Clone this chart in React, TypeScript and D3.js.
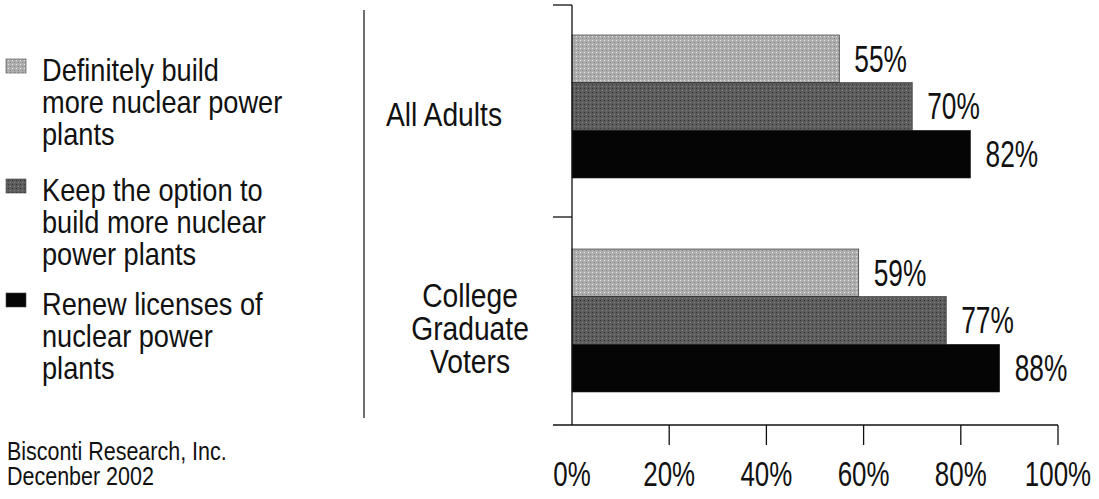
import React from "react";
import * as d3 from "d3";

const categories = ["All Adults", "College Graduate Voters"];
const categoryLines = [["All Adults"], ["College", "Graduate", "Voters"]];
const seriesNames = [
  "Definitely build more nuclear power plants",
  "Keep the option to build more nuclear power plants",
  "Renew licenses of nuclear power plants",
];
const legendLines = [
  ["Definitely build", "more nuclear power", "plants"],
  ["Keep the option to", "build more nuclear", "power plants"],
  ["Renew licenses of", "nuclear power", "plants"],
];
const allAdults = [55, 70, 82];
const collegeGrads = [59, 77, 88];
const values = [allAdults, collegeGrads];
const xTicks = [0, 20, 40, 60, 80, 100];
const sourceLines = ["Bisconti Research, Inc.", "Decenber 2002"];

const colors = ["#adadad", "#5c5c5c", "#050505"];
const FONT = "'Liberation Sans', Arial, sans-serif";

function T(props: {
  x: number;
  y: number;
  size: number;
  sx: number;
  anchor?: "start" | "middle" | "end";
  dy?: string;
  children: React.ReactNode;
}) {
  const { x, y, size, sx, anchor = "start", dy, children } = props;
  return (
    <g transform={`translate(${x},${y}) scale(${sx},1)`}>
      <text x={0} y={0} dy={dy} textAnchor={anchor} fontFamily={FONT} fontSize={size} fill="#111">
        {children}
      </text>
    </g>
  );
}

export default function App() {
  const W = 1099;
  const H = 499;
  const x = d3.scaleLinear().domain([0, 100]).range([572, 1058]);
  const y = d3.scaleBand<string>().domain(categories).range([3, 431]);
  const inner = d3.scaleBand<string>().domain(seriesNames).range([32, 175]);
  const axisTop = 5;
  const axisBottom = 425;
  const catLabelX = [444, 470];

  return (
    <svg width={W} height={H} style={{ position: "absolute", left: 0, top: 0, background: "#fff" }}>
      <defs>
        {colors.map((c, i) => (
          <pattern key={i} id={`pat${i}`} width={4} height={4} patternUnits="userSpaceOnUse">
            <rect width={4} height={4} fill={c} />
            {i < 2 && (
              <>
                <rect x={0} y={0} width={1} height={1} fill={i === 0 ? "#e6e6e6" : "#333"} />
                <rect x={2} y={2} width={1} height={1} fill={i === 0 ? "#808080" : "#8a8a8a"} />
              </>
            )}
          </pattern>
        ))}
      </defs>

      {/* Legend */}
      {legendLines.map((lines, i) => {
        const base = [81, 201, 315][i];
        return (
          <g key={i}>
            <rect x={6} y={base - 22} width={20} height={14} fill={`url(#pat${i})`} stroke="#444" strokeWidth={0.6} />
            {lines.map((ln, j) => (
              <T key={j} x={42} y={base + j * 32} size={32} sx={0.85}>
                {ln}
              </T>
            ))}
          </g>
        );
      })}

      {/* Source */}
      {sourceLines.map((ln, j) => (
        <T key={j} x={7} y={460 + j * 25} size={25} sx={0.86}>
          {ln}
        </T>
      ))}

      {/* Divider */}
      <line x1={364} x2={364} y1={10} y2={418} stroke="#222" strokeWidth={1.3} />

      {/* Category labels */}
      {categories.map((c, i) => {
        const lines = categoryLines[i];
        const cy = (y(c) as number) + y.bandwidth() / 2 + 4;
        const lh = 33;
        const start = cy - ((lines.length - 1) * lh) / 2;
        return (
          <g key={c}>
            {lines.map((ln, j) => (
              <T key={j} x={catLabelX[i]} y={start + j * lh} dy="0.35em" size={34} sx={0.83} anchor="middle">
                {ln}
              </T>
            ))}
          </g>
        );
      })}

      {/* Bars */}
      {categories.map((c, ci) => (
        <g key={c}>
          {seriesNames.map((s, si) => {
            const y0 = (y(c) as number) + (inner(s) as number);
            const v = values[ci][si];
            return (
              <g key={s}>
                <rect
                  x={x(0)}
                  y={y0}
                  width={x(v) - x(0)}
                  height={inner.bandwidth()}
                  fill={`url(#pat${si})`}
                  stroke="#222"
                  strokeWidth={0.6}
                />
                <T x={x(v) + 15} y={y0 + inner.bandwidth() / 2} dy="0.36em" size={36} sx={0.73}>
                  {v}%
                </T>
              </g>
            );
          })}
        </g>
      ))}

      {/* Y axis */}
      <line x1={572} x2={572} y1={axisTop} y2={axisBottom} stroke="#111" strokeWidth={1.3} />
      <line x1={553} x2={572} y1={axisTop} y2={axisTop} stroke="#111" strokeWidth={1.3} />
      <line x1={553} x2={572} y1={y(categories[1]) as number} y2={y(categories[1]) as number} stroke="#111" strokeWidth={1.3} />

      {/* X axis */}
      <line x1={553} x2={x(100)} y1={axisBottom} y2={axisBottom} stroke="#111" strokeWidth={1.3} />
      {xTicks.map((t) => (
        <g key={t}>
          {t > 0 && <line x1={x(t)} x2={x(t)} y1={axisBottom} y2={axisBottom + 20} stroke="#111" strokeWidth={1.3} />}
          <T x={x(t)} y={486} size={36} sx={0.72} anchor="middle">
            {t}%
          </T>
        </g>
      ))}
    </svg>
  );
}
